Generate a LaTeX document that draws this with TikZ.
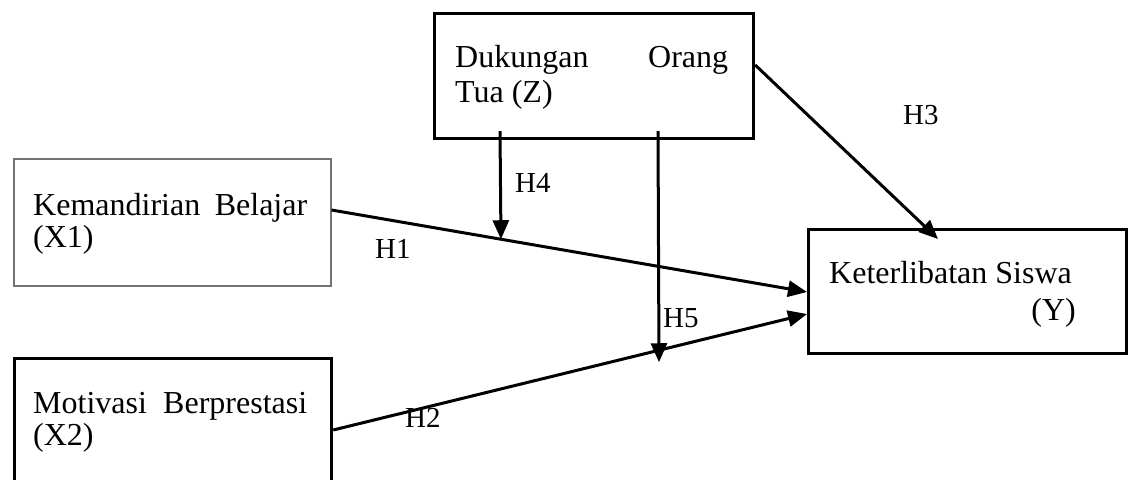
\documentclass[tikz,border=0pt]{standalone}
\usepackage{fontspec}
\setmainfont{Liberation Serif}
\usetikzlibrary{arrows.meta,calc}

\begin{document}
\begin{tikzpicture}[x=1pt,y=-1pt,
  varbox/.style={draw=black,line width=3.2pt,rectangle,anchor=north west,inner sep=0pt},
  lightbox/.style={draw=black!55,line width=1.5pt,rectangle,anchor=north west,inner sep=0pt},
  body/.style={anchor=base west,inner sep=0pt,font=\fontsize{32}{36}\selectfont},
  hlabel/.style={anchor=base west,inner sep=0pt,font=\fontsize{29}{33}\selectfont},
  hypath/.style={draw=black,line width=3pt,-{Triangle[length=19pt,width=16pt]}}]

\clip (0,0) rectangle (1131,479);
\useasboundingbox (0,0) rectangle (1131,479);

% variable boxes
\node[lightbox,minimum width=317pt,minimum height=127pt] (x1box) at (13,158) {};
\node[varbox,minimum width=317pt,minimum height=140pt] (x2box) at (13,357) {};
\node[varbox,minimum width=319pt,minimum height=125pt] (zbox) at (433,12) {};
\node[varbox,minimum width=318pt,minimum height=124pt] (ybox) at (807,228) {};

% box texts
\node[body] (x1a) at (33,215) {\makebox[274pt][s]{Kemandirian Belajar}};
\node[body] (x1b) at (33,247) {(X1)};
\node[body] (x2a) at (33,413) {\makebox[274pt][s]{Motivasi Berprestasi}};
\node[body] (x2b) at (33,445) {(X2)};
\node[body] (za) at (455,67) {\makebox[273pt][s]{Dukungan Orang}};
\node[body] (zb) at (455,102) {Tua (Z)};
\node[body] (ya) at (829,283) {Keterlibatan Siswa};
\node[body,anchor=base east] (yb) at (1076,320) {(Y)};

% end points of the direct paths on the box borders
\coordinate (h1s) at ($(x1box.north east)+(0,52)$);
\coordinate (h1e) at ($(ybox.north west)+(0,64)$);
\coordinate (h2s) at ($(x2box.north east)+(0,73)$);
\coordinate (h2e) at ($(ybox.north west)+(0,86)$);
\coordinate (h3s) at ($(zbox.north east)+(0,53)$);
\coordinate (h3e) at ($(ybox.north west)+(131,11)$);

% moderating paths from Z onto the direct paths
\coordinate (h4s) at ($(zbox.south west)+(67,-9)$);
\coordinate (h4e) at ($(h1s)!0.3564!(h1e)$);
\coordinate (h5s) at ($(zbox.south west)+(225,-9)$);
\coordinate (h5e) at ($(h2s)!0.6876!(h2e)+(0,12)$);

\draw[hypath] (h1s) -- (h1e);
\draw[hypath] (h2s) -- (h2e);
\draw[hypath] (h3s) -- (h3e);
\draw[hypath] (h4s) -- (h4e);
\draw[hypath] (h5s) -- (h5e);

% hypothesis labels
\node[hlabel] (lh1) at (375,258) {H1};
\node[hlabel] (lh2) at (405,427) {H2};
\node[hlabel] (lh3) at (903,124) {H3};
\node[hlabel] (lh4) at (515,192) {H4};
\node[hlabel] (lh5) at (663,327) {H5};
\end{tikzpicture}
\end{document}
